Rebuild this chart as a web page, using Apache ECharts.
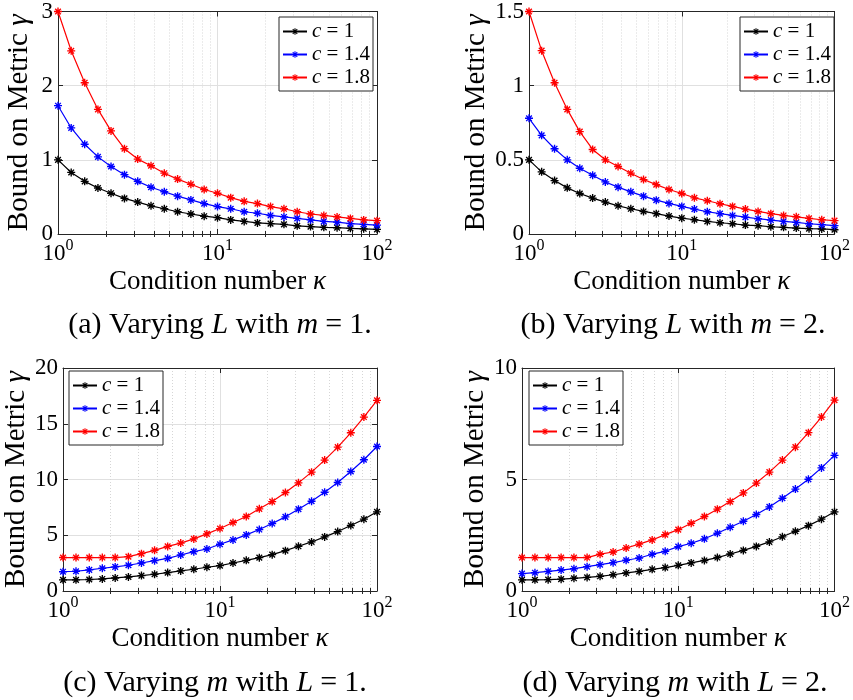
<!DOCTYPE html>
<html>
<head>
<meta charset="utf-8">
<script src="https://cdn.jsdelivr.net/npm/echarts@6/dist/echarts.min.js"></script>
<style>html,body{margin:0;padding:0;background:#fff}#main{width:853px;height:700px}</style>
</head>
<body>
<div id="main"></div>
<script>
// ---------- data ----------
const KAPPA = [1, 1.21, 1.47, 1.78, 2.15, 2.61, 3.16, 3.83, 4.64, 5.62, 6.81, 8.25, 10,
  12.1, 14.7, 17.8, 21.5, 26.1, 31.6, 38.3, 46.4, 56.2, 68.1, 82.5, 100];
const MINOR_TICKS = [2, 3, 4, 5, 6, 7, 8, 9, 20, 30, 40, 50, 60, 70, 80, 90];
const SERIES_NAMES = ['c = 1', 'c = 1.4', 'c = 1.8'];
const SERIES_COLORS = ['#000000', '#0000ff', '#ff0000'];

const A_C1  = [1.0, 0.83, 0.71, 0.62, 0.55, 0.48, 0.43, 0.38, 0.34, 0.30, 0.27, 0.24, 0.22, 0.19, 0.17, 0.15, 0.14, 0.13, 0.11, 0.10, 0.09, 0.085, 0.076, 0.07, 0.063];
const A_C14 = [1.73, 1.43, 1.21, 1.04, 0.91, 0.80, 0.71, 0.63, 0.57, 0.51, 0.46, 0.41, 0.37, 0.34, 0.30, 0.28, 0.25, 0.23, 0.21, 0.19, 0.17, 0.16, 0.14, 0.13, 0.12];
const A_C18 = [3.0, 2.47, 2.04, 1.68, 1.39, 1.15, 1.01, 0.92, 0.82, 0.74, 0.67, 0.60, 0.55, 0.49, 0.44, 0.41, 0.37, 0.34, 0.30, 0.27, 0.25, 0.23, 0.21, 0.19, 0.18];

const B_C1  = [0.5, 0.419, 0.36, 0.311, 0.273, 0.242, 0.215, 0.19, 0.17, 0.152, 0.137, 0.121, 0.107, 0.096, 0.085, 0.076, 0.069, 0.06, 0.056, 0.049, 0.045, 0.04, 0.036, 0.034, 0.029];
const B_C14 = [0.78, 0.665, 0.575, 0.50, 0.443, 0.396, 0.351, 0.316, 0.284, 0.255, 0.228, 0.206, 0.186, 0.168, 0.150, 0.137, 0.125, 0.114, 0.103, 0.094, 0.085, 0.078, 0.069, 0.063, 0.056];
const B_C18 = [1.5, 1.236, 1.02, 0.84, 0.69, 0.57, 0.50, 0.455, 0.41, 0.367, 0.333, 0.30, 0.273, 0.244, 0.224, 0.204, 0.186, 0.168, 0.152, 0.137, 0.125, 0.116, 0.105, 0.096, 0.09];

const C_C1  = [1.0, 1.0, 1.03, 1.08, 1.17, 1.26, 1.38, 1.5, 1.65, 1.8, 1.95, 2.13, 2.28, 2.51, 2.75, 2.99, 3.26, 3.62, 4.01, 4.4, 4.85, 5.33, 5.87, 6.44, 7.1];
const C_C14 = [1.73, 1.77, 1.89, 2.04, 2.16, 2.31, 2.51, 2.72, 2.93, 3.23, 3.53, 3.77, 4.19, 4.58, 5.03, 5.51, 6.05, 6.65, 7.34, 8.05, 8.86, 9.73, 10.72, 11.77, 12.96];
const C_C18 = [3.0, 3.0, 3.0, 3.0, 3.0, 3.08, 3.35, 3.65, 4.0, 4.3, 4.67, 5.12, 5.6, 6.14, 6.68, 7.37, 8.02, 8.83, 9.7, 10.66, 11.74, 12.9, 14.19, 15.6, 17.1];

const D_C1  = [0.5, 0.5, 0.51, 0.53, 0.57, 0.61, 0.66, 0.73, 0.81, 0.88, 0.97, 1.05, 1.15, 1.26, 1.37, 1.5, 1.66, 1.82, 2.0, 2.2, 2.43, 2.68, 2.93, 3.22, 3.55];
const D_C14 = [0.78, 0.82, 0.88, 0.94, 1.0, 1.09, 1.18, 1.27, 1.38, 1.48, 1.65, 1.78, 1.99, 2.14, 2.34, 2.59, 2.86, 3.13, 3.43, 3.77, 4.16, 4.57, 5.01, 5.52, 6.08];
const D_C18 = [1.5, 1.5, 1.5, 1.5, 1.5, 1.5, 1.65, 1.75, 1.93, 2.1, 2.29, 2.53, 2.75, 3.04, 3.34, 3.67, 4.01, 4.4, 4.84, 5.33, 5.87, 6.45, 7.1, 7.8, 8.56];

const Y_MAX = [3, 1.5, 20, 10];
const Y_INTERVAL = [1, 0.5, 5, 5];
const CAPTIONS = [
  '(a) Varying {i|L} with {i|m}{e|=}1.',
  '(b) Varying {i|L} with {i|m}{e|=}2.',
  '(c) Varying {i|m} with {i|L}{e|=}1.',
  '(d) Varying {i|m} with {i|L}{e|=}2.'
];
const X_NAME = 'Condition number {i|κ}';
const Y_NAME = 'Bound on Metric {i|γ}';
const PANEL_DATA = [[A_C1, A_C14, A_C18], [B_C1, B_C14, B_C18], [C_C1, C_C14, C_C18], [D_C1, D_C14, D_C18]];

// ---------- layout / style ----------
const FONT = 'Liberation Serif';
const AX = '#262626';
const GRIDS = [
  {left: 58, top: 11, width: 319, height: 223},
  {left: 529, top: 11, width: 308, height: 223},
  {left: 63, top: 368, width: 314, height: 223},
  {left: 522, top: 368, width: 315, height: 223}
];
const Y_NAME_GAP = [24, 35, 32, 31];
const LEGEND_POS = [
  {left: 279, top: 17},
  {left: 740, top: 17},
  {left: 69, top: 371},
  {left: 529, top: 371}
];
const CAPTION_POS = [
  {x: 215, y: 305}, {x: 668, y: 305}, {x: 210, y: 663}, {x: 670, y: 663}
];
const STAR = 'path://M-1,-0.17L1,-0.17L1,0.17L-1,0.17Z M-0.17,-1L0.17,-1L0.17,1L-0.17,1Z M-0.587,-0.827L0.827,0.587L0.587,0.827L-0.827,-0.587Z M0.827,-0.587L-0.587,0.827L-0.827,0.587L0.587,-0.827Z';

const richSet = (size, gap) => ({
  i: {fontFamily: FONT, fontStyle: 'italic', fontSize: size, color: '#000'},
  e: {fontFamily: FONT, fontSize: size, color: '#000', padding: [0, gap, 0, gap]}
});

const xAxes = [], yAxes = [], series = [], legends = [], titles = [];
GRIDS.forEach((g, p) => {
  const base = {gridIndex: p, type: 'log', logBase: 10, min: 1, max: 100};
  xAxes.push(Object.assign({}, base, {
    position: 'bottom',
    axisLine: {show: true, onZero: false, lineStyle: {color: AX, width: 1}},
    axisTick: {show: true, inside: true, length: 5, lineStyle: {color: AX}},
    axisLabel: {
      margin: 4,
      formatter: v => '{b|10}{s|' + Math.round(Math.log10(v)) + '}',
      rich: {
        b: {fontFamily: FONT, fontSize: 23, color: '#000', lineHeight: 31},
        s: {fontFamily: FONT, fontSize: 16, color: '#000', lineHeight: 16, verticalAlign: 'top'}
      }
    },
    splitLine: {show: true, lineStyle: {color: '#e0e0e0', width: 1}},
    name: X_NAME, nameLocation: 'middle', nameGap: 34,
    nameTextStyle: {fontFamily: FONT, fontSize: 27, color: '#000', rich: richSet(27, 0)}
  }));
  xAxes.push(Object.assign({}, base, {
    position: 'top',
    axisLine: {show: true, onZero: false, lineStyle: {color: AX, width: 1}},
    axisTick: {show: true, inside: true, length: 5, lineStyle: {color: AX}},
    axisLabel: {show: false}, splitLine: {show: false}
  }));
  xAxes.push(Object.assign({}, base, {
    position: 'bottom',
    axisLine: {show: false},
    axisTick: {show: true, inside: true, length: 3, customValues: MINOR_TICKS, lineStyle: {color: AX}},
    axisLabel: {show: false, customValues: MINOR_TICKS},
    splitLine: {show: true, lineStyle: {color: '#d6d6d6', width: 1, type: [1, 2]}}
  }));
  xAxes.push(Object.assign({}, base, {
    position: 'top',
    axisLine: {show: false},
    axisTick: {show: true, inside: true, length: 3, customValues: MINOR_TICKS, lineStyle: {color: AX}},
    axisLabel: {show: false, customValues: MINOR_TICKS},
    splitLine: {show: false}
  }));
  yAxes.push({
    gridIndex: p, type: 'value', min: 0, max: Y_MAX[p], interval: Y_INTERVAL[p], position: 'left',
    axisLine: {show: true, onZero: false, lineStyle: {color: AX, width: 1}},
    axisTick: {show: true, inside: true, length: 5, lineStyle: {color: AX}},
    axisLabel: {margin: 5, fontFamily: FONT, fontSize: 23, color: '#000'},
    splitLine: {show: true, lineStyle: {color: '#e0e0e0', width: 1}},
    name: Y_NAME, nameLocation: 'middle', nameGap: Y_NAME_GAP[p],
    nameTextStyle: {fontFamily: FONT, fontSize: 29, color: '#000', rich: richSet(29, 0)}
  });
  yAxes.push({
    gridIndex: p, type: 'value', min: 0, max: Y_MAX[p], interval: Y_INTERVAL[p], position: 'right',
    axisLine: {show: true, onZero: false, lineStyle: {color: AX, width: 1}},
    axisTick: {show: true, inside: true, length: 5, lineStyle: {color: AX}},
    axisLabel: {show: false}, splitLine: {show: false}
  });

  PANEL_DATA[p].forEach((vals, s) => {
    series.push({
      type: 'line', name: SERIES_NAMES[s],
      xAxisIndex: p * 4, yAxisIndex: p * 2,
      data: KAPPA.map((k, i) => [k, vals[i]]),
      symbol: STAR, symbolSize: 8, showSymbol: true,
      lineStyle: {color: SERIES_COLORS[s], width: 1.2},
      itemStyle: {color: SERIES_COLORS[s]},
      animation: false, z: 3 + s
    });
  });

  legends.push({
    orient: 'vertical', left: LEGEND_POS[p].left, top: LEGEND_POS[p].top,
    data: SERIES_NAMES.slice(),
    itemWidth: 24, itemHeight: 8, itemGap: 2,
    padding: [4, 3, 3, 3],
    backgroundColor: '#fff', borderColor: '#262626', borderWidth: 1, borderRadius: 0,
    selectedMode: false,
    formatter: n => '{i|c} = ' + n.split('= ')[1],
    textStyle: {fontFamily: FONT, fontSize: 21, color: '#000', lineHeight: 21,
      width: 58, overflow: 'none',
      rich: richSet(21, 0)}
  });

  titles.push({
    text: CAPTIONS[p], left: CAPTION_POS[p].x, top: CAPTION_POS[p].y, textAlign: 'center',
    textStyle: {fontFamily: FONT, fontSize: 30, fontWeight: 'normal', color: '#000',
      rich: richSet(30, 7)}
  });
});

const chart = echarts.init(document.getElementById('main'), null, {renderer: 'canvas'});
chart.setOption({
  backgroundColor: '#ffffff',
  animation: false,
  title: titles,
  grid: GRIDS.map(g => Object.assign({containLabel: false}, g)),
  xAxis: xAxes,
  yAxis: yAxes,
  legend: legends,
  series: series
});
</script>
</body>
</html>
